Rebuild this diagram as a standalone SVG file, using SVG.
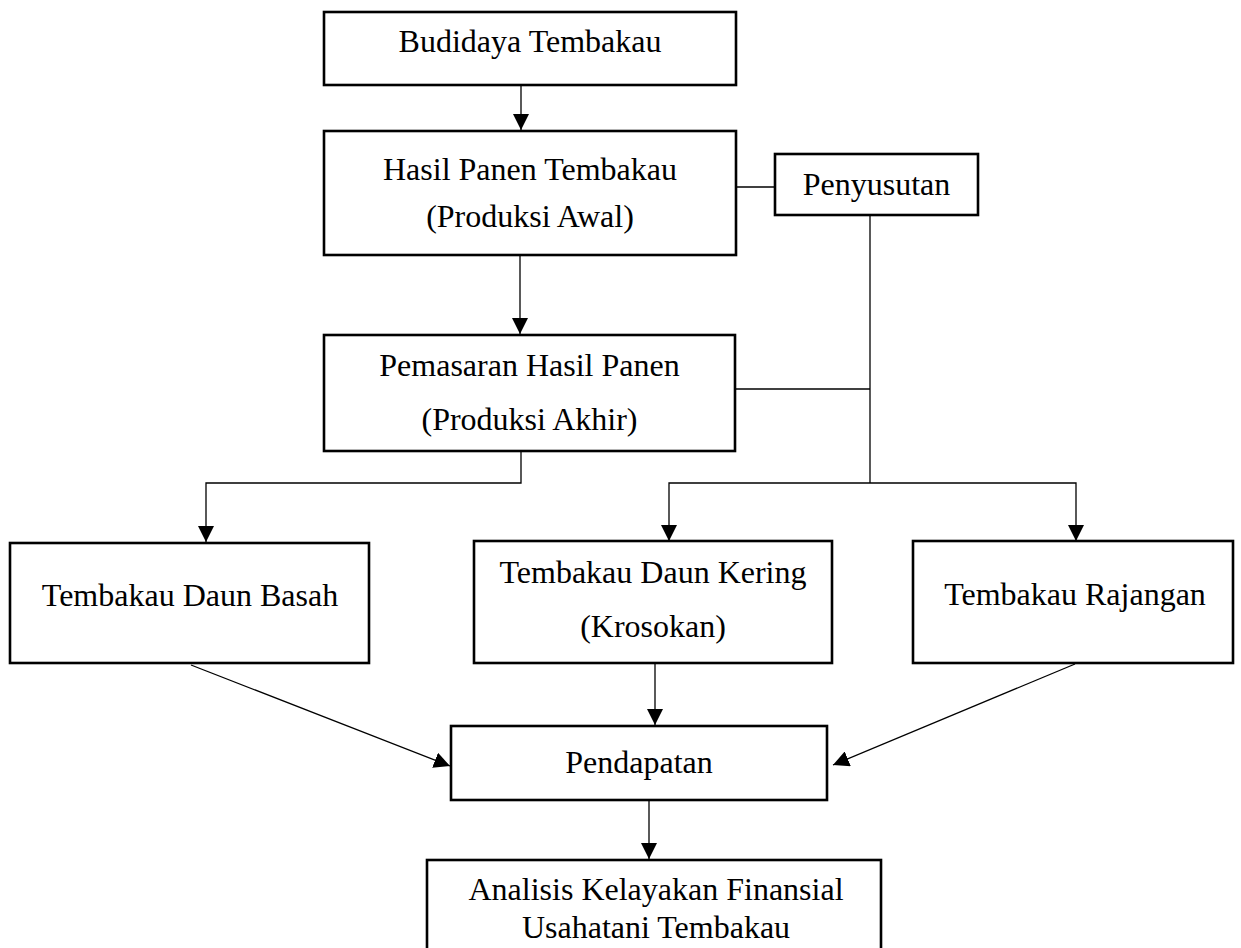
<svg xmlns="http://www.w3.org/2000/svg" width="1241" height="948" viewBox="0 0 1241 948">
<style>
  .box { fill: #ffffff; stroke: #000000; stroke-width: 2.6; }
  .lbl { font-family: "Liberation Serif", "Times New Roman", serif; font-size: 32px; fill: #000000; text-anchor: middle; }
  .conn { fill: none; stroke: #000000; stroke-width: 1.3; }
  .arr { marker-end: url(#ah); }
</style>
<defs>
  <marker id="ah" markerUnits="userSpaceOnUse" markerWidth="16" markerHeight="16" refX="16" refY="8" orient="auto" viewBox="0 0 16 16">
    <path d="M0,0 L16,8 L0,16 z" fill="#000000"/>
  </marker>
</defs>
<rect width="1241" height="948" fill="#ffffff"/>

<g id="connectors">
  <path class="conn arr" d="M521,85 V130"/>
  <path class="conn arr" d="M520,255 V334"/>
  <path class="conn" d="M736,187 H775"/>
  <path class="conn" d="M870,215 V483"/>
  <path class="conn" d="M735,389 H870"/>
  <path class="conn arr" d="M521,451 V483 H206 V542"/>
  <path class="conn arr" d="M870,483 H669 V541"/>
  <path class="conn arr" d="M870,483 H1076 V541"/>
  <path class="conn arr" d="M191,665 L450,766"/>
  <path class="conn arr" d="M655,663 V725"/>
  <path class="conn arr" d="M1075,664 L833,765"/>
  <path class="conn arr" d="M649,800 V859"/>
</g>

<g id="budidaya">
  <rect class="box" x="324" y="12" width="412" height="73"/>
  <text class="lbl" x="530" y="52">Budidaya Tembakau</text>
</g>
<g id="hasil-panen">
  <rect class="box" x="324" y="131" width="412" height="124"/>
  <text class="lbl" x="530" y="180">Hasil Panen Tembakau</text>
  <text class="lbl" x="530" y="227">(Produksi Awal)</text>
</g>
<g id="penyusutan">
  <rect class="box" x="775" y="154" width="203" height="61"/>
  <text class="lbl" x="876.5" y="195">Penyusutan</text>
</g>
<g id="pemasaran">
  <rect class="box" x="324" y="335" width="411" height="116"/>
  <text class="lbl" x="529.5" y="376">Pemasaran Hasil Panen</text>
  <text class="lbl" x="529.5" y="430">(Produksi Akhir)</text>
</g>
<g id="daun-basah">
  <rect class="box" x="10" y="543" width="359" height="120"/>
  <text class="lbl" x="190" y="606">Tembakau Daun Basah</text>
</g>
<g id="daun-kering">
  <rect class="box" x="474" y="541" width="358" height="122"/>
  <text class="lbl" x="653" y="583">Tembakau Daun Kering</text>
  <text class="lbl" x="653" y="637">(Krosokan)</text>
</g>
<g id="rajangan">
  <rect class="box" x="913" y="541" width="320" height="122"/>
  <text class="lbl" x="1075" y="605">Tembakau Rajangan</text>
</g>
<g id="pendapatan">
  <rect class="box" x="451" y="726" width="376" height="74"/>
  <text class="lbl" x="639" y="773">Pendapatan</text>
</g>
<g id="analisis">
  <rect class="box" x="427" y="860" width="454" height="110"/>
  <text class="lbl" x="656" y="900">Analisis Kelayakan Finansial</text>
  <text class="lbl" x="656" y="938">Usahatani Tembakau</text>
</g>
</svg>
